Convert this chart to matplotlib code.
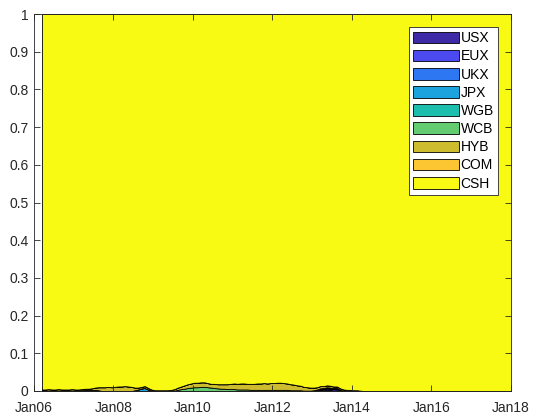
import numpy as np
import pandas as pd
import matplotlib
matplotlib.use("Agg")
import matplotlib.pyplot as plt
import matplotlib.dates as mdates

# monthly weights, Feb 2006 .. Jan 2018 (one row per 12 months)
Z = [0] * 12
usx = Z * 6 + [0, 0, 0, 0, 0, 0, 0, 0, 0, 0, 0.001, 0.002] + \
    [0.003, 0.004, 0.002, 0.003, 0.005, 0.004, 0.002, 0.001, 0, 0, 0, 0] + Z * 4
eux = Z * 7 + [0.001, 0.002, 0.003, 0.002, 0.001, 0.002, 0.001, 0, 0, 0, 0, 0] + Z * 4
ukx = Z * 6 + [0, 0, 0, 0, 0, 0, 0, 0, 0, 0, 0, 0.001] + \
    [0.002, 0.001, 0.003, 0.002, 0.001, 0.001, 0, 0, 0, 0, 0, 0] + Z * 4
jpx = [0.001, 0.001, 0.001, 0.001, 0.001, 0.001, 0.001, 0.001, 0.001, 0.001, 0.001, 0.001] + \
    [0.001, 0.002, 0.002, 0.002, 0.002, 0.001, 0, 0, 0, 0, 0, 0] + \
    [0, 0, 0, 0, 0.002, 0.004, 0.007, 0.008, 0.004, 0.001, 0, 0] + Z * 4 + \
    [0.001, 0.001, 0.002, 0.002, 0.001, 0.001, 0, 0, 0, 0, 0, 0] + Z * 4
wgb = Z + [0.001, 0.001, 0.001, 0.001, 0.001, 0.001, 0, 0, 0, 0, 0, 0] + Z * 10
wcb = Z * 3 + [0, 0, 0, 0, 0.001, 0.003, 0.005, 0.006, 0.008, 0.009, 0.010, 0.010] + \
    [0.011, 0.011, 0.010, 0.009, 0.008, 0.007, 0.006, 0.006, 0.005, 0.005, 0.005, 0.004] + \
    [0.004, 0.004, 0.004, 0.003, 0.003, 0.003, 0.003, 0.003, 0.003, 0.003, 0.003, 0.003] + \
    [0.003, 0.003, 0.003, 0.002, 0.002, 0.002, 0.002, 0.001, 0.001, 0.001, 0.001, 0.001] + Z * 5
hyb = [0.003, 0.003, 0.004, 0.003, 0.003, 0.004, 0.003, 0.003, 0.003, 0.004, 0.003, 0.003] + \
    [0.003, 0.003, 0.003, 0.004, 0.006, 0.008, 0.010, 0.010, 0.011, 0.010, 0.011, 0.012] + \
    [0.012, 0.013, 0.012, 0.011, 0.007, 0.005, 0.004, 0.005, 0.004, 0.003, 0.002, 0.002] + \
    [0.002, 0.002, 0.002, 0.003, 0.004, 0.006, 0.007, 0.009, 0.010, 0.011, 0.012, 0.012] + \
    [0.012, 0.012, 0.011, 0.010, 0.011, 0.011, 0.012, 0.012, 0.013, 0.014, 0.015, 0.015] + \
    [0.016, 0.016, 0.015, 0.016, 0.016, 0.017, 0.017, 0.018, 0.017, 0.018, 0.018, 0.019] + \
    [0.019, 0.018, 0.017, 0.016, 0.015, 0.013, 0.012, 0.010, 0.009, 0.008, 0.007, 0.006] + \
    [0.006, 0.005, 0.005, 0.005, 0.004, 0.004, 0.004, 0.003, 0.003, 0.003, 0.002, 0.002] + \
    [0.001, 0, 0, 0, 0, 0, 0, 0, 0, 0, 0, 0] + Z * 3
com = Z * 12

names = ["USX", "EUX", "UKX", "JPX", "WGB", "WCB", "HYB", "COM", "CSH"]
colors = ["#3e2aa6", "#4a4af0", "#2d78f2", "#1ca2dc", "#1cbfae",
          "#64cc70", "#cdbd2e", "#fcc632", "#f9fa14"]

dates = pd.date_range("2006-02-15", periods=144, freq="MS") + pd.Timedelta(days=14)
risky = np.array([usx, eux, ukx, jpx, wgb, wcb, hyb, com])
csh = 1 - risky.sum(axis=0)
stack = np.vstack([risky, csh])

fig = plt.figure(figsize=(5.33, 4.16), dpi=100)
ax = fig.add_axes([34 / 533, 25 / 416, 477 / 533, 377 / 416])

ax.stackplot(dates, stack, colors=colors, labels=names,
             edgecolor="black", linewidth=0.6)

ax.set_xlim(pd.Timestamp("2006-01-01"), pd.Timestamp("2018-01-01"))
ax.set_ylim(0, 1)
ax.set_yticks(np.arange(0, 1.01, 0.1))
ax.set_yticklabels(["0", "0.1", "0.2", "0.3", "0.4", "0.5", "0.6", "0.7", "0.8", "0.9", "1"])
ax.xaxis.set_major_locator(mdates.YearLocator(2))
ax.xaxis.set_major_formatter(mdates.DateFormatter("%b%y"))

ax.tick_params(direction="in", top=True, right=True, length=4, width=0.6,
               colors="#262626", labelsize=10)
ax.tick_params(axis="x", pad=7)
ax.tick_params(axis="y", pad=4)
for lab in ax.get_xticklabels() + ax.get_yticklabels():
    lab.set_fontfamily("Liberation Sans")
for s in ax.spines.values():
    s.set_color("#262626")
    s.set_linewidth(0.6)

leg = ax.legend(loc="upper right", bbox_to_anchor=(0.973, 0.9655),
                prop={"family": "Liberation Sans", "size": 10},
                fancybox=False, framealpha=1, edgecolor="#262626",
                handlelength=3.3, handleheight=0.92, labelspacing=0.3,
                handletextpad=0.15, borderpad=0.3, borderaxespad=0)
leg.get_frame().set_linewidth(0.6)

plt.savefig("out.png", dpi=100)
